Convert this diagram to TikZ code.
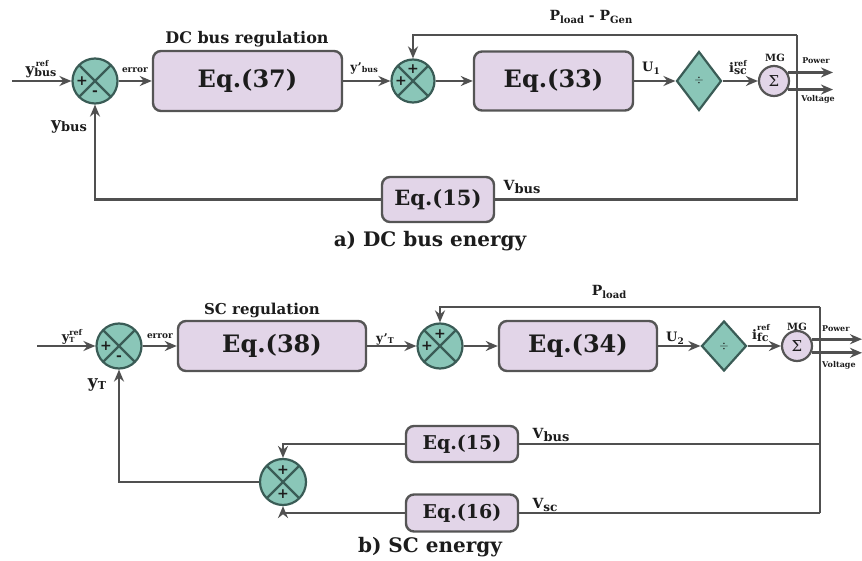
\documentclass[tikz,border=0pt]{standalone}
\usepackage{fontspec}
\setmainfont{DejaVu Serif}
\usetikzlibrary{arrows.meta,shapes.geometric,calc}
\definecolor{boxfill}{RGB}{226,213,232}
\definecolor{boxdraw}{RGB}{85,85,85}
\definecolor{jfill}{RGB}{138,198,184}
\definecolor{jdraw}{RGB}{58,92,86}
\definecolor{wirec}{RGB}{80,80,80}
\definecolor{txt}{RGB}{28,28,28}
\newcommand\fs[1]{\fontsize{#1}{#1}\selectfont}
\newcommand\stk[2]{\raisebox{-0.15em}{\shortstack[l]{\fs{8}#1\\[-1pt]\fs{11}#2}}}
\begin{document}
\begin{tikzpicture}[x=1pt,y=-1pt,
  every node/.style={text=txt},
  eqbox/.style={draw=boxdraw, fill=boxfill, rounded corners=8pt, line width=2.4pt, font=\bfseries\fs{24}, inner sep=0},
  junc/.style={circle, draw=jdraw, fill=jfill, line width=2.2pt, minimum size=45pt, inner sep=0,
    path picture={\draw[jdraw, line width=2.2pt] (path picture bounding box.north west) -- (path picture bounding box.south east) (path picture bounding box.north east) -- (path picture bounding box.south west);}},
  sgn/.style={font=\bfseries\fs{14}, inner sep=0},
  wire/.style={draw=wirec, line width=2.8pt},
  arr/.style={wire, -{Stealth[length=12pt,width=10pt]}},
  divd/.style={diamond, draw=jdraw, fill=jfill, line width=2.2pt, inner sep=0, minimum width=45pt},
  mgc/.style={circle, draw=boxdraw, fill=boxfill, line width=2.2pt, minimum size=30pt, inner sep=0},
  lab/.style={font=\bfseries, inner sep=0}
]
\useasboundingbox (0,0) rectangle (862,561);

% ================= a) DC bus energy =================
\node[junc] (j1) at (95,81) {};
\node[sgn] at ($(j1)+(-13,0)$) {+};
\node[sgn] at ($(j1)+(0,12)$) {-};
\coordinate (in1) at (12,81);
\draw[arr] (in1) -- (j1);
\node[lab] (lyref1) at (41,69) {\fs{15}y\stk{\,ref}{bus}};

\node[eqbox, minimum width=189pt, minimum height=60pt] (b37) at (247.5,81) {Eq.(37)};
\node[lab, font=\bfseries\fs{16}] (t37) at (247,39) {DC bus regulation};
\draw[arr] (j1) -- (b37);
\node[lab, font=\bfseries\fs{9}] (lerr1) at (135,70) {error};

\node[junc, minimum size=43pt] (j2) at (413,81) {};
\node[sgn] at ($(j2)+(-12,0)$) {+};
\node[sgn] at ($(j2)+(0,-12)$) {+};
\draw[arr] (b37) -- (j2);
\node[lab] (lyp1) at (364,68) {\fs{12}y'\raisebox{-0.1em}{\fs{8}bus}};

\node[eqbox, minimum width=159pt, minimum height=59pt] (b33) at (553.5,81) {Eq.(33)};
\draw[arr] (j2) -- (b33);

\node[divd, minimum height=59pt] (d1) at (699,81) {\fs{12}$\div$};
\draw[arr] (b33) -- (d1);
\node[lab] (lu1) at (651,68) {\fs{13}U\raisebox{-0.2em}{\fs{9}1}};

\node[mgc] (mg1) at (774,81) {\fs{15}Σ};
\node[lab, font=\bfseries\fs{10}] (lmg1) at (775,58) {MG};
\draw[arr] (d1) -- (mg1);
\node[lab] (li1) at (738,68) {\fs{13}i\stk{ref}{sc}};

\coordinate (pe1) at (833,0);
\draw[arr] (mg1.32) -- (mg1.32 -| pe1);
\draw[arr] (mg1.-32) -- (mg1.-32 -| pe1);
\node[lab, font=\bfseries\fs{8}] (lpw1) at (816,61) {Power};
\node[lab, font=\bfseries\fs{8}] (lvo1) at (818,99) {Voltage};

\coordinate (ra) at (797,35);
\coordinate (rb) at (797,199.5);
\node[eqbox, minimum width=112pt, minimum height=45pt, font=\bfseries\fs{21}] (b15a) at (438,199.5) {Eq.(15)};
\draw[wire] (b15a.east) -- (rb) -- (ra);
\draw[arr] (ra) -- (ra -| j2) -- (j2);
\draw[arr] (b15a.west) -- (b15a.west -| j1) -- (j1);
\node[lab] (lpl1) at (591,17) {\fs{14}P\raisebox{-0.2em}{\fs{10}load}\ -\ P\raisebox{-0.2em}{\fs{10}Gen}};
\node[lab] (lvb1) at (522,187) {\fs{14}V\raisebox{-0.15em}{\fs{13}bus}};
\node[lab] (lyb1) at (69,127) {\fs{17}y\raisebox{-0.1em}{\fs{13}bus}};
\node[lab, font=\bfseries\fs{20}] (cap1) at (430,241) {a) DC bus energy};

% ================= b) SC energy =================
\node[junc] (j3) at (119,346) {};
\node[sgn] at ($(j3)+(-13,0)$) {+};
\node[sgn] at ($(j3)+(0,12)$) {-};
\coordinate (in3) at (37,346);
\draw[arr] (in3) -- (j3);
\node[lab] (lyref2) at (72,337) {\fs{13}y\raisebox{-0.1em}{\shortstack[l]{\fs{8}ref\\[-1pt]\fs{7}T}}};

\node[eqbox, minimum width=188pt, minimum height=50pt] (b38) at (272,346) {Eq.(38)};
\node[lab, font=\bfseries\fs{15}] (t38) at (262,310) {SC regulation};
\draw[arr] (j3) -- (b38);
\node[lab, font=\bfseries\fs{9}] (lerr2) at (160,336) {error};

\node[junc] (j4) at (440,346) {};
\node[sgn] at ($(j4)+(-13,0)$) {+};
\node[sgn] at ($(j4)+(0,-12)$) {+};
\draw[arr] (b38) -- (j4);
\node[lab] (lyp2) at (385,339) {\fs{12}y'\raisebox{-0.1em}{\fs{8}T}};

\node[eqbox, minimum width=158pt, minimum height=50pt] (b34) at (578,346) {Eq.(34)};
\draw[arr] (j4) -- (b34);

\node[divd, minimum height=50pt] (d2) at (724,346) {\fs{12}$\div$};
\draw[arr] (b34) -- (d2);
\node[lab] (lu2) at (675,338) {\fs{13}U\raisebox{-0.2em}{\fs{9}2}};

\node[mgc] (mg2) at (797,346) {\fs{15}Σ};
\node[lab, font=\bfseries\fs{10}] (lmg2) at (797,327) {MG};
\draw[arr] (d2) -- (mg2);
\node[lab] (li2) at (761,333) {\fs{13}i\stk{ref}{fc}};

\coordinate (pe2) at (862,0);
\draw[arr] (mg2.25) -- (mg2.25 -| pe2);
\draw[arr] (mg2.-25) -- (mg2.-25 -| pe2);
\node[lab, font=\bfseries\fs{8}, anchor=west] (lpw2) at (822,329) {Power};
\node[lab, font=\bfseries\fs{8}, anchor=west] (lvo2) at (822,365) {Voltage};

\coordinate (rc) at (820,307);
\coordinate (rd) at (820,444);
\coordinate (re) at (820,513);
\draw[wire] (rc) -- (re);
\draw[arr] (rc) -- (rc -| j4) -- (j4);
\node[lab] (lpl2) at (609,292) {\fs{14}P\raisebox{-0.2em}{\fs{10}load}};

\node[junc, minimum size=46pt] (j5) at (283,482) {};
\node[sgn] at ($(j5)+(0,-12)$) {+};
\node[sgn] at ($(j5)+(0,12)$) {+};

\node[eqbox, minimum width=112pt, minimum height=36pt, font=\bfseries\fs{19}] (b15b) at (462,444) {Eq.(15)};
\node[eqbox, minimum width=112pt, minimum height=37pt, font=\bfseries\fs{19}] (b16) at (462,513) {Eq.(16)};
\draw[wire] (rd) -- (b15b.east);
\draw[wire] (re) -- (b16.east);
\draw[arr] (b15b.west) -- (b15b.west -| j5) -- (j5);
\draw[arr] (b16.west) -- (b16.west -| j5) -- (j5);
\draw[arr] (j5) -- (j5 -| j3) -- (j3);
\node[lab] (lvb2) at (551,435) {\fs{14}V\raisebox{-0.15em}{\fs{13}bus}};
\node[lab] (lvs2) at (545,505) {\fs{14}V\raisebox{-0.15em}{\fs{12}sc}};
\node[lab] (lyt2) at (97,385) {\fs{17}y\raisebox{-0.1em}{\fs{11}T}};
\node[lab, font=\bfseries\fs{20}] (cap2) at (430,547) {b) SC energy};
\end{tikzpicture}
\end{document}
